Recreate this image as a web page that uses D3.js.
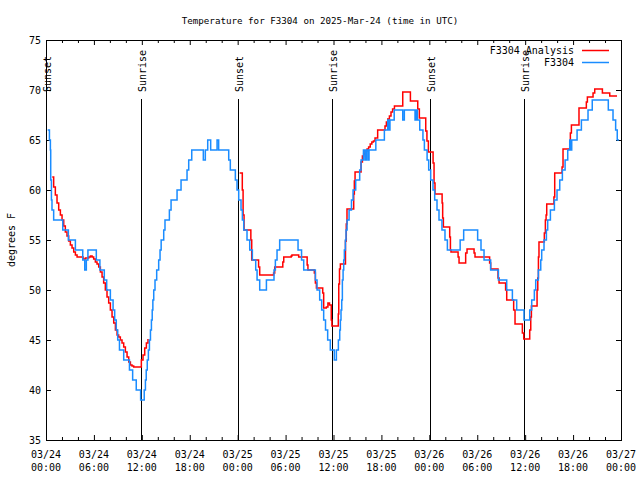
<!DOCTYPE html>
<html><head><meta charset="utf-8">
<script src="https://cdn.jsdelivr.net/npm/d3@7"></script>
<style>
body{margin:0;background:#fff}
text{font-family:"DejaVu Sans Mono",monospace;font-size:10px;fill:#000}
</style>
</head><body>
<svg id="chart" width="640" height="480"></svg>
<script>
// ---------- data (hours since 2025-03-24 00:00 UTC) ----------
const titleText = "Temperature for F3304 on 2025-Mar-24 (time in UTC)";
const yAxisLabel = "degrees F";
const seriesNames = ["F3304 Analysis", "F3304"];

const obsHours = [0.21,0.43,0.55,0.59,0.68,0.75,0.96,2.1,2.8,3.68,4.6,4.85,5.05,5.25,6.3,6.75,7.3,7.6,8.06,8.4,8.6,8.8,8.98,9.2,9.73,10.45,10.85,11.3,11.85,12.3,12.45,12.55,12.68,12.82,12.95,13.08,13.2,13.3,13.38,13.49,13.65,13.86,14.11,14.28,14.42,14.74,14.9,15.45,15.66,16.41,16.91,17.66,17.87,18.25,19.7,19.95,20.25,20.62,21.42,21.62,22.88,23.08,23.71,23.92,24.13,24.42,24.59,24.76,25.17,25.51,25.84,26.26,26.43,26.76,27.6,28.55,28.72,28.93,29.26,31.56,32.0,32.27,33.73,33.94,34.27,34.52,34.77,35.0,35.27,35.6,36.1,36.36,36.61,36.78,36.86,36.94,37.03,37.11,37.2,37.28,37.36,37.49,37.57,37.7,37.95,38.25,38.45,38.78,39.28,39.45,39.75,39.95,40.1,40.3,40.45,41.3,42.37,42.79,42.91,43.07,43.6,44.67,44.87,46.21,46.38,46.5,46.8,47.2,47.38,47.72,47.92,48.17,48.46,48.67,48.96,49.21,49.58,49.96,50.26,51.86,52.3,54.05,54.47,54.85,55.68,56.65,57.69,58.4,58.94,59.85,60.57,60.82,61.15,61.32,61.65,61.95,62.07,62.36,62.66,62.82,63.16,63.66,63.99,64.33,64.66,65.0,65.33,65.58,65.71,65.83,66.5,67.04,67.87,68.4,70.41,71.0,71.33,71.53,71.76];
const obsTemps = [66,65,64,61,59,58,57,56,55,54,53,52,53,54,53,52,51,50,49,48,47,46,45,44,43,42,41,40,39,40,41,42,43,44,45,46,47,48,49,50,51,52,53,54,55,56,57,58,59,60,61,62,63,64,63,64,65,64,65,64,63,62,61,60,59,58,57,56,55,54,53,52,51,50,51,52,53,54,55,54,53,52,51,50,49,48,47,46,45,44,43,44,45,46,47,48,49,51,52,53,54,55,56,57,58,59,60,61,62,63,64,63,64,63,64,65,66,67,66,67,68,67,68,67,68,67,66,65,64,63,62,61,60,59,58,57,56,55,54,55,56,55,54,53,52,51,50,49,48,47,48,49,50,51,52,53,54,55,56,57,58,59,60,61,62,63,64,65,64,65,66,67,68,69,68,67,66,65,65];

const anaHours = [0.78,0.96,1.17,1.38,1.59,1.8,2.01,2.22,2.42,2.63,2.84,3.05,3.26,3.47,3.68,3.89,4.64,4.93,5.35,5.56,5.77,5.97,6.18,6.39,6.6,6.81,7.02,7.22,7.43,7.64,7.85,8.06,8.27,8.48,8.69,8.9,9.1,9.31,9.52,9.73,9.94,10.15,10.36,10.57,10.77,10.98,11.94,12.15,12.36,12.57,12.77,12.8,
  24.25,24.58,24.68,24.8,25.65,25.76,26.62,26.76,28.5,28.64,29.65,29.77,30.7,30.8,31.64,32.7,32.8,33.6,33.73,33.86,34.65,34.77,35.1,35.3,35.5,35.72,35.8,36.6,36.66,36.75,36.86,37.5,37.6,37.69,38.53,38.61,38.7,39.45,39.62,39.78,39.95,40.2,40.4,40.6,40.8,41.0,41.2,41.53,42.45,42.62,42.79,43.0,43.2,43.4,43.63,44.67,45.63,46.55,46.75,47.55,47.7,47.88,48.47,48.59,48.71,49.6,49.67,49.76,50.55,50.64,50.71,51.6,51.72,52.55,52.72,53.6,53.72,55.55,55.68,56.6,56.73,57.55,57.69,58.56,58.73,59.65,59.82,60.57,60.7,60.78,61.49,61.58,61.66,61.73,62.4,62.53,62.62,62.7,63.6,63.7,64.62,64.74,65.66,65.79,66.74,67.66,67.79,68.5,68.71,69.67,70.59,71.5];
const anaTemps = [61.3,60.3,59.5,58.7,58.0,57.5,57.0,56.4,55.8,55.4,54.9,54.5,54.2,53.8,53.5,53.3,53.1,53.2,53.3,53.4,53.3,53.1,52.8,52.6,52.3,51.8,51.3,50.7,50.0,49.3,48.7,48.0,47.3,46.7,46.0,45.5,45.3,45.0,44.7,44.3,43.8,43.3,42.8,42.5,42.4,42.3,43.0,43.5,44.2,44.7,45.1,null,
  61.7,60.0,57.5,56.0,55.0,53.0,52.3,51.5,51.7,52.3,52.8,53.3,53.4,53.5,53.3,52.5,52.0,51.7,50.7,50.2,49.7,48.2,48.3,48.7,48.5,47.0,46.4,47.6,50.6,52.1,52.6,54.9,56.6,58.1,59.6,60.9,61.8,62.8,63.4,63.6,63.9,64.1,64.3,64.6,64.8,64.9,65.2,66.0,66.4,66.8,67.1,67.4,67.8,68.1,68.4,69.8,68.9,68.1,67.2,65.9,64.9,63.8,62.7,60.7,59.6,58.7,57.2,56.3,55.3,54.0,53.8,53.3,52.7,53.7,54.1,53.7,53.3,52.7,52.1,51.2,50.7,50.0,49.0,48.0,46.6,45.7,45.1,46.0,47.3,48.4,50.0,51.2,53.3,54.8,55.7,57.0,57.5,58.6,59.3,61.7,62.3,64.1,65.7,66.5,68.2,68.8,69.3,69.7,70.1,69.7,69.4,69.4];

const sunsetHours = [0.05, 24.03, 48.05];
const sunriseHours = [11.93, 35.86, 59.86];
const yTickValues = [35,40,45,50,55,60,65,70,75];

// ---------- setup ----------
const t0 = Date.UTC(2025,2,24,0,0);
const toDate = h => new Date(t0 + h*3600e3);
const L = 46, R = 621, T = 40, B = 440;
const svg = d3.select("#chart");
const x = d3.scaleUtc().domain([toDate(0), toDate(72)]).range([L, R]);
const y = d3.scaleLinear().domain([35,75]).range([B, T]);

svg.append("text").attr("x", 320).attr("y", 24).attr("text-anchor","middle")
  .style("font-size","9.2px").text(titleText);

// sunrise / sunset markers
const marks = sunsetHours.map(h=>({h, name:"Sunset"})).concat(sunriseHours.map(h=>({h, name:"Sunrise"})));
const mg = svg.append("g");
marks.forEach(m=>{
  const px = Math.round(x(toDate(m.h))) + 0.5;
  mg.append("line").attr("x1",px).attr("x2",px).attr("y1",99).attr("y2",B)
    .attr("stroke","#000").attr("stroke-width",1);
  mg.append("text").attr("transform",`translate(${px+0.5},92) rotate(-90)`)
    .attr("dominant-baseline","central").text(m.name);
});

// axes ticks
const majorTicks = d3.utcHour.every(6).range(toDate(0), toDate(72.01));
const minorTicks = d3.utcHour.every(2).range(toDate(0), toDate(72.01)).filter(d=>d.getUTCHours()%6!==0);
function tickAxis(axisFn, scale, vals, size){
  return g => { g.call(axisFn(scale).tickValues(vals).tickSize(size).tickFormat("")); g.select(".domain").remove(); g.selectAll("line").attr("stroke","#000"); };
}
svg.append("g").attr("transform",`translate(0,${B})`).call(tickAxis(d3.axisBottom, x, majorTicks, -5));
svg.append("g").attr("transform",`translate(0,${B})`).call(tickAxis(d3.axisBottom, x, minorTicks, -3));
svg.append("g").attr("transform",`translate(0,${T})`).call(tickAxis(d3.axisTop, x, majorTicks, -5));
svg.append("g").attr("transform",`translate(0,${T})`).call(tickAxis(d3.axisTop, x, minorTicks, -3));
svg.append("g").attr("transform",`translate(${L},0)`).call(tickAxis(d3.axisLeft, y, yTickValues, -5));
svg.append("g").attr("transform",`translate(${R},0)`).call(tickAxis(d3.axisRight, y, yTickValues, -5));

const fDay = d3.utcFormat("%m/%d"), fHour = d3.utcFormat("%H:%M");
const xl = svg.append("g");
majorTicks.forEach(d=>{
  const px = x(d);
  xl.append("text").attr("x",px).attr("y",458).attr("text-anchor","middle").text(fDay(d));
  xl.append("text").attr("x",px).attr("y",471).attr("text-anchor","middle").text(fHour(d));
});
yTickValues.forEach(v=>{
  svg.append("text").attr("x",41).attr("y",y(v)+4).attr("text-anchor","end").text(v);
});
svg.append("text").attr("transform",`translate(11,240) rotate(-90)`).attr("text-anchor","middle")
  .attr("dominant-baseline","central").text(yAxisLabel);

// border
svg.append("rect").attr("x",L+0.5).attr("y",T+0.5).attr("width",R-L).attr("height",B-T)
  .attr("fill","none").attr("stroke","#000").attr("stroke-width",1);

// series
const colors = ["#ff0000", "#1a8cff"];
const anaData = anaHours.map((h,i)=>({d:toDate(h), v:anaTemps[i]}));
const obsData = obsHours.map((h,i)=>({d:toDate(h), v:obsTemps[i]}));
const line = d3.line().defined(p=>p.v!=null).x(p=>x(p.d)).y(p=>y(p.v)).curve(d3.curveStepAfter);
[anaData, obsData].forEach((data,i)=>{
  svg.append("path").datum(data).attr("d",line).attr("fill","none")
    .attr("stroke",colors[i]).attr("stroke-width",1.5).attr("stroke-linejoin","miter");
});

// legend
seriesNames.forEach((n,i)=>{
  const ly = 50 + i*12;
  svg.append("text").attr("x",574).attr("y",ly+4).attr("text-anchor","end").text(n);
  svg.append("line").attr("x1",582).attr("x2",609).attr("y1",ly+0.5).attr("y2",ly+0.5)
    .attr("stroke",colors[i]).attr("stroke-width",1.5);
});
</script>
</body></html>
